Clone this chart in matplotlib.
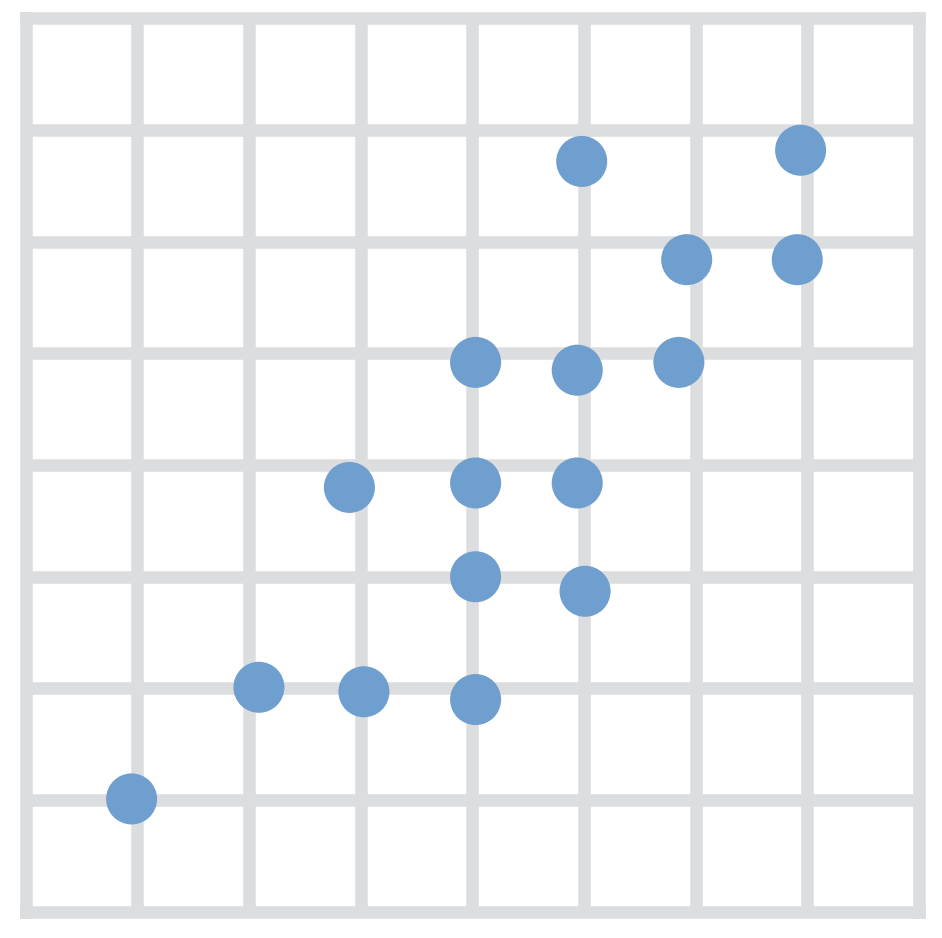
import matplotlib
matplotlib.use('Agg')
import matplotlib.pyplot as plt

# point positions (grid units)
xs = [0.95, 2.09, 3.03, 4.03, 2.90, 4.03, 4.94, 4.03, 5.01, 4.03, 4.94, 5.85, 5.92, 6.91, 4.98, 6.94]
ys = [1.01, 2.01, 1.97, 1.90, 3.80, 3.84, 3.84, 3.00, 2.87, 4.92, 4.85, 4.92, 5.84, 5.84, 6.72, 6.82]

grid_color = '#dcdddf'
dot_color = '#6f9fcf'

fig = plt.figure(figsize=(9.42, 9.38), dpi=100)
ax = fig.add_axes([25.5 / 942, (938 - 911.7) / 938, (919 - 25.5) / 942, (911.7 - 18.5) / 938])

ax.set_xlim(0, 8)
ax.set_ylim(0, 8)
ax.set_xticks(range(1, 8))
ax.set_yticks(range(1, 8))
ax.tick_params(length=0, labelbottom=False, labelleft=False)
ax.grid(True, color=grid_color, linewidth=9)
ax.set_axisbelow(True)

for s in ax.spines.values():
    s.set_color(grid_color)
    s.set_linewidth(9)
    s.set_capstyle('projecting')

ax.scatter(xs, ys, s=1350, color=dot_color, edgecolors='none', zorder=3, clip_on=False)

fig.savefig('out.png', dpi=100)
